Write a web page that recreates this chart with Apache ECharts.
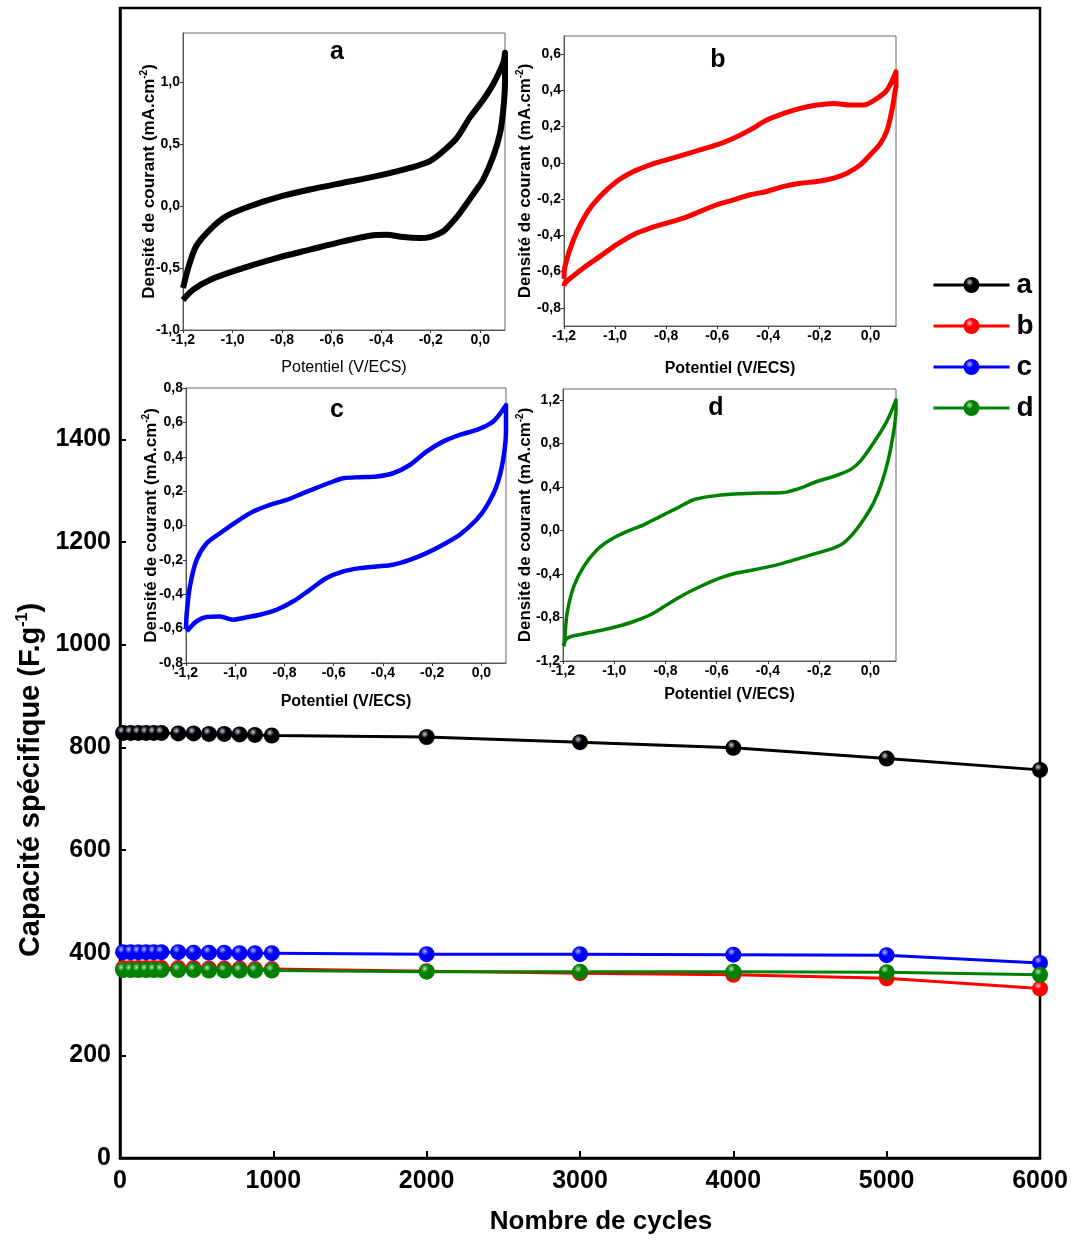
<!DOCTYPE html>
<html><head><meta charset="utf-8">
<script src="https://cdn.jsdelivr.net/npm/echarts@6/dist/echarts.min.js"></script>
<style>html,body{margin:0;padding:0;background:#fff}#c{width:1075px;height:1240px}</style>
</head><body><div id="c"></div>
<script>
// ---------- main chart data ----------
var cycles = [20, 70, 120, 170, 220, 270, 380, 480, 580, 680, 780, 880, 990, 2000, 3000, 4000, 5000, 6000];
var capA = [828, 828, 828, 828, 828, 828, 827, 827, 826, 826, 825, 824, 823, 820, 810, 799, 778, 756];
var capB = [370, 370, 370, 370, 370, 370, 370, 370, 369, 369, 369, 368, 368, 364, 360, 357, 350, 330];
var capC = [401, 401, 401, 401, 401, 401, 401, 400, 400, 400, 399, 399, 399, 397, 397, 396, 395, 380];
var capD = [366, 366, 366, 366, 366, 366, 366, 366, 365, 365, 365, 365, 365, 363, 363, 363, 362, 357];
var seriesNames = ['a', 'b', 'c', 'd'];
var xTicks = [0, 1000, 2000, 3000, 4000, 5000, 6000];
var yTicks = [0, 200, 400, 600, 800, 1000, 1200, 1400];

// ---------- inset CV data [potential V/ECS, current mA.cm-2] ----------
var cvA_anodic = [[-1.2,-0.66],[-1.173,-0.46],[-1.146,-0.32],[-1.092,-0.19],[-1.025,-0.08],[-0.93,0.0],[-0.823,0.07],[-0.688,0.135],[-0.553,0.19],[-0.419,0.243],[-0.284,0.31],[-0.203,0.365],[-0.149,0.446],[-0.095,0.55],[-0.041,0.72],[0.012,0.86],[0.053,0.99],[0.093,1.16],[0.1,1.24]];
var cvA_cathodic = [[0.1,1.0],[0.093,0.78],[0.08,0.59],[0.053,0.405],[0.012,0.216],[-0.015,0.135],[-0.082,-0.054],[-0.122,-0.149],[-0.149,-0.203],[-0.203,-0.249],[-0.244,-0.257],[-0.311,-0.249],[-0.378,-0.23],[-0.446,-0.238],[-0.553,-0.284],[-0.688,-0.351],[-0.823,-0.419],[-0.958,-0.5],[-1.092,-0.595],[-1.16,-0.676],[-1.2,-0.757]];
var cvB_anodic = [[-1.2,-0.64],[-1.196,-0.57],[-1.163,-0.424],[-1.111,-0.277],[-1.059,-0.185],[-0.994,-0.103],[-0.928,-0.048],[-0.863,-0.011],[-0.798,0.017],[-0.732,0.044],[-0.667,0.072],[-0.602,0.099],[-0.536,0.136],[-0.471,0.182],[-0.406,0.237],[-0.34,0.273],[-0.275,0.301],[-0.21,0.319],[-0.144,0.328],[-0.079,0.319],[-0.027,0.319],[0.026,0.356],[0.065,0.402],[0.1,0.503]];
var cvB_cathodic = [[0.1,0.42],[0.097,0.40],[0.084,0.29],[0.065,0.18],[0.039,0.108],[-0.001,0.044],[-0.04,-0.011],[-0.092,-0.057],[-0.144,-0.084],[-0.21,-0.103],[-0.275,-0.112],[-0.34,-0.13],[-0.406,-0.158],[-0.471,-0.176],[-0.536,-0.204],[-0.602,-0.231],[-0.667,-0.268],[-0.732,-0.305],[-0.798,-0.332],[-0.863,-0.36],[-0.928,-0.396],[-0.994,-0.451],[-1.059,-0.516],[-1.124,-0.58],[-1.196,-0.662],[-1.2,-0.68]];
var cvC_anodic = [[-1.2,-0.6],[-1.197,-0.51],[-1.184,-0.354],[-1.157,-0.2],[-1.116,-0.103],[-1.062,-0.045],[-0.994,0.023],[-0.927,0.081],[-0.859,0.12],[-0.791,0.149],[-0.724,0.188],[-0.656,0.227],[-0.602,0.256],[-0.561,0.275],[-0.494,0.281],[-0.426,0.285],[-0.359,0.304],[-0.291,0.352],[-0.223,0.43],[-0.156,0.488],[-0.088,0.527],[-0.02,0.556],[0.047,0.604],[0.1,0.7]];
var cvC_cathodic = [[0.1,0.556],[0.088,0.381],[0.061,0.227],[0.02,0.11],[-0.02,0.033],[-0.088,-0.054],[-0.156,-0.112],[-0.223,-0.161],[-0.291,-0.2],[-0.359,-0.228],[-0.426,-0.238],[-0.494,-0.248],[-0.561,-0.267],[-0.629,-0.306],[-0.697,-0.374],[-0.764,-0.441],[-0.832,-0.49],[-0.9,-0.519],[-0.967,-0.538],[-1.008,-0.548],[-1.062,-0.529],[-1.116,-0.532],[-1.157,-0.558],[-1.197,-0.616]];
var cvD_anodic = [[-1.2,-1.06],[-1.195,-1.036],[-1.184,-0.76],[-1.158,-0.515],[-1.119,-0.331],[-1.067,-0.178],[-1.015,-0.086],[-0.95,-0.009],[-0.885,0.052],[-0.82,0.129],[-0.755,0.205],[-0.69,0.282],[-0.625,0.313],[-0.534,0.334],[-0.43,0.343],[-0.339,0.349],[-0.274,0.389],[-0.209,0.45],[-0.144,0.496],[-0.079,0.558],[-0.04,0.634],[0.012,0.803],[0.064,1.002],[0.1,1.2]];
var cvD_cathodic = [[0.1,1.109],[0.09,0.895],[0.07,0.65],[0.044,0.435],[0.012,0.251],[-0.027,0.098],[-0.066,-0.025],[-0.105,-0.116],[-0.144,-0.162],[-0.209,-0.208],[-0.274,-0.254],[-0.339,-0.3],[-0.404,-0.337],[-0.469,-0.368],[-0.534,-0.398],[-0.599,-0.447],[-0.664,-0.515],[-0.729,-0.591],[-0.794,-0.683],[-0.859,-0.775],[-0.924,-0.837],[-0.989,-0.883],[-1.054,-0.919],[-1.119,-0.95],[-1.184,-0.99],[-1.197,-1.066]];
var cvXTicks = [-1.2, -1.0, -0.8, -0.6, -0.4, -0.2, 0.0];
var cvYTicksA = [-1.0, -0.5, 0.0, 0.5, 1.0];
var cvYTicksB = [-0.8, -0.6, -0.4, -0.2, 0.0, 0.2, 0.4, 0.6];
var cvYTicksC = [-0.8, -0.6, -0.4, -0.2, 0.0, 0.2, 0.4, 0.6, 0.8];
var cvYTicksD = [-1.2, -0.8, -0.4, 0.0, 0.4, 0.8, 1.2];

var FF = "'Liberation Sans', Arial, Helvetica, sans-serif";
var colors = ['#000000', '#ff0000', '#0000ff', '#008000'];
var hilites = ['#c8c8dc', '#ffb0c8', '#b0b8ff', '#b0e0b0'];

function pairs(xs, ys) { return xs.map(function (x, i) { return [x, ys[i]]; }); }
function sphere(i) {
  return { type: 'radial', x: 0.38, y: 0.32, r: 0.7,
    colorStops: [{ offset: 0, color: hilites[i] }, { offset: 0.35, color: colors[i] }, { offset: 1, color: colors[i] }] };
}
function comma(v) { return (Math.abs(v) < 1e-9 ? 0 : v).toFixed(1).replace('.', ','); }
function plain(v) { return String(v); }

var chart = echarts.init(document.getElementById('c'), null, { renderer: 'canvas' });

var insetGrids = [
  { left: 183, top: 33, width: 322, height: 297 },
  { left: 564, top: 36, width: 332, height: 290 },
  { left: 186, top: 388, width: 320, height: 275 },
  { left: 563, top: 389, width: 333, height: 272 }
];
var insetY = [
  { min: -1.0, max: 1.4, ticks: cvYTicksA },
  { min: -0.9, max: 0.7, ticks: cvYTicksB },
  { min: -0.8, max: 0.8, ticks: cvYTicksC },
  { min: -1.2, max: 1.3, ticks: cvYTicksD }
];
var xNameGap = [30, 35, 31, 26];
var xNameWeight = ['normal', 'bold', 'bold', 'bold'];
var yNameGap = [24, 29, 25, 28];
var cvData = [
  cvA_anodic.concat(cvA_cathodic),
  cvB_anodic.concat(cvB_cathodic),
  cvC_anodic.concat(cvC_cathodic),
  cvD_anodic.concat(cvD_cathodic)
];
var cvWidth = [6, 5, 4.5, 3.5];

var grids = [{ left: 120, top: 8, width: 920, height: 1150, show: true, borderColor: '#000', borderWidth: 2.5, backgroundColor: 'transparent' }];
var xAxes = [{
  gridIndex: 0, type: 'value', min: 0, max: 6000, interval: 1000,
  axisLine: { show: true, lineStyle: { color: '#000', width: 2.5 } },
  axisTick: { show: true, inside: true, length: 7, lineStyle: { color: '#000', width: 2 }, customValues: xTicks },
  axisLabel: { color: '#000', fontSize: 25, fontWeight: 'bold', fontFamily: FF, margin: 11, customValues: xTicks, formatter: plain },
  splitLine: { show: false }
}];
var yAxes = [{
  gridIndex: 0, type: 'value', min: 0, max: 2240,
  axisLine: { show: true, lineStyle: { color: '#000', width: 2.5 } },
  axisTick: { show: true, inside: true, length: 6, lineStyle: { color: '#000', width: 2 }, customValues: yTicks },
  axisLabel: { color: '#000', fontSize: 25, fontWeight: 'bold', fontFamily: FF, margin: 9, customValues: yTicks, formatter: plain },
  splitLine: { show: false }
}];
var series = [];
[capA, capB, capC, capD].forEach(function (vals, i) {
  series.push({
    name: seriesNames[i], type: 'line', xAxisIndex: 0, yAxisIndex: 0,
    data: pairs(cycles, vals), symbol: 'circle', symbolSize: 16, clip: false,
    lineStyle: { color: colors[i], width: 3 },
    itemStyle: { color: sphere(i), borderWidth: 0 },
    z: 3 + i
  });
});

insetGrids.forEach(function (g, k) {
  grids.push({ left: g.left, top: g.top, width: g.width, height: g.height, show: true, borderColor: '#666', borderWidth: 1, backgroundColor: '#fff', z: 10 });
  xAxes.push({
    gridIndex: k + 1, type: 'value', min: -1.2, max: 0.1,
    name: 'Potentiel (V/ECS)', nameLocation: 'middle', nameGap: xNameGap[k],
    nameTextStyle: { color: '#000', fontSize: 16, fontWeight: xNameWeight[k], fontFamily: FF },
    axisLine: { show: true, onZero: false, lineStyle: { color: '#555', width: 1 } },
    axisTick: { show: true, inside: false, length: 3, lineStyle: { color: '#333' }, customValues: cvXTicks },
    axisLabel: { color: '#000', fontSize: 14, fontWeight: 'bold', fontFamily: FF, margin: 3, customValues: cvXTicks, formatter: comma },
    splitLine: { show: false }, z: 11
  });
  yAxes.push({
    gridIndex: k + 1, type: 'value', min: insetY[k].min, max: insetY[k].max,
    name: '{t|Densité de courant (mA.cm}{s|-2}{t|)}', nameLocation: 'middle', nameGap: yNameGap[k], nameRotate: 90,
    nameMoveOverlap: false,
    nameTextStyle: { color: '#000', fontFamily: FF, rich: {
      t: { fontSize: 17, fontWeight: 'bold', fontFamily: FF, color: '#000', lineHeight: 20 },
      s: { fontSize: 10, fontWeight: 'bold', fontFamily: FF, color: '#000', verticalAlign: 'top', lineHeight: 20 } } },
    axisLine: { show: true, onZero: false, lineStyle: { color: '#555', width: 1 } },
    axisTick: { show: true, inside: false, length: 3, lineStyle: { color: '#333' }, customValues: insetY[k].ticks },
    axisLabel: { color: '#000', fontSize: 14, fontWeight: 'bold', fontFamily: FF, margin: 3, customValues: insetY[k].ticks, formatter: comma },
    splitLine: { show: false }, z: 11
  });
  series.push({
    name: 'cv-' + seriesNames[k], type: 'line', xAxisIndex: k + 1, yAxisIndex: k + 1,
    data: cvData[k], showSymbol: false, symbol: 'none', smooth: 0.3,
    lineStyle: { color: colors[k], width: cvWidth[k], join: 'round' }, z: 12
  });
});

var insetTitles = [[337, 52], [718, 60], [337, 410], [716, 408]];
var graphics = insetTitles.map(function (p, k) {
  return { type: 'text', x: p[0], y: p[1], z: 100,
    style: { text: seriesNames[k], fill: '#000', fontSize: 25, fontWeight: 'bold', fontFamily: FF, align: 'center', verticalAlign: 'middle' } };
});
graphics.push({ type: 'text', x: 601, y: 1222, z: 100,
  style: { text: 'Nombre de cycles', fill: '#000', fontSize: 26, fontWeight: 'bold', fontFamily: FF, align: 'center', verticalAlign: 'middle' } });
graphics.push({ type: 'text', x: 31, y: 780, rotation: Math.PI / 2, z: 100,
  style: { text: '{t|Capacité spécifique (F.g}{s|-1}{t|)}', align: 'center', verticalAlign: 'middle',
    rich: { t: { fontSize: 29, fontWeight: 'bold', fontFamily: FF, fill: '#000', lineHeight: 32 },
            s: { fontSize: 16, fontWeight: 'bold', fontFamily: FF, fill: '#000', verticalAlign: 'top', lineHeight: 32 } } } });

chart.setOption({
  animation: false,
  backgroundColor: '#fff',
  grid: grids, xAxis: xAxes, yAxis: yAxes, series: series,
  legend: {
    data: seriesNames, orient: 'vertical', left: 932, top: 271, padding: 0,
    itemWidth: 76, itemHeight: 20, itemGap: 13,
    lineStyle: { width: 3 },
    textStyle: { color: '#000', fontSize: 28, fontWeight: 'bold', fontFamily: FF, padding: [0, 0, 0, 2] },
    z: 50
  },
  graphic: graphics
});
</script></body></html>
